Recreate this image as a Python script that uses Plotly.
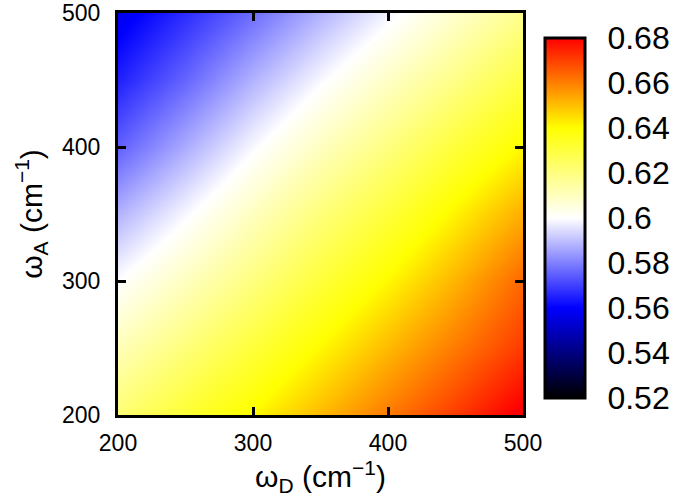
import plotly.graph_objects as go

# grid of the map (cm^-1)
omega_D = [200, 250, 300, 350, 400, 450, 500]
omega_A = [200, 250, 300, 350, 400, 450, 500]

# values, one row per omega_A (bottom to top)
z_vals = [
    [0.622, 0.632, 0.641, 0.651, 0.661, 0.671, 0.682],
    [0.611, 0.621, 0.631, 0.641, 0.651, 0.661, 0.671],
    [0.600, 0.610, 0.620, 0.631, 0.641, 0.652, 0.664],
    [0.588, 0.599, 0.610, 0.621, 0.631, 0.642, 0.653],
    [0.575, 0.587, 0.599, 0.610, 0.620, 0.631, 0.641],
    [0.565, 0.576, 0.588, 0.599, 0.609, 0.619, 0.630],
    [0.557, 0.567, 0.577, 0.588, 0.598, 0.608, 0.618],
]

cbar_ticks = [0.52, 0.54, 0.56, 0.58, 0.60, 0.62, 0.64, 0.66, 0.68]
cbar_labels = ["0.52", "0.54", "0.56", "0.58", "0.6", "0.62", "0.64", "0.66", "0.68"]
axis_ticks = [200, 300, 400, 500]

zmin, zmax = 0.52, 0.68

# black -> blue -> white -> yellow -> red
palette = [
    [0.0, "rgb(0,0,0)"],
    [0.25, "rgb(0,0,255)"],
    [0.5, "rgb(255,255,255)"],
    [0.75, "rgb(255,255,0)"],
    [1.0, "rgb(255,0,0)"],
]

fnt = "Liberation Sans, Arial, sans-serif"

# plot area in px
L, R, T, B = 118, 162, 13, 88
W, H = 685, 503
pw, ph = W - L - R, H - T - B

# colorbar placement (paper units)
cb_x = 1.054
cb_len = 0.8955
cb_y = 0.49
cb_thick = 40

fig = go.Figure(go.Heatmap(
    x=omega_D, y=omega_A, z=z_vals,
    zmin=zmin, zmax=zmax, zsmooth="best",
    colorscale=palette,
    colorbar=dict(
        x=cb_x, xanchor="left", xpad=0,
        y=cb_y, yanchor="middle", ypad=0, len=cb_len, lenmode="fraction",
        thickness=cb_thick, outlinewidth=3, outlinecolor="black",
        tickmode="array", tickvals=cbar_ticks, ticktext=cbar_labels,
        ticks="outside", ticklen=15, tickcolor="rgba(0,0,0,0)",
        tickfont=dict(family=fnt, size=32, color="black"),
    ),
))

# inside tick marks on both edges of the colorbar
cb_bottom = cb_y - cb_len / 2
x_left = cb_x
x_right = cb_x + cb_thick / pw
tl = 8 / pw
for v in cbar_ticks[1:-1]:
    yy = cb_bottom + (v - zmin) / (zmax - zmin) * cb_len
    for x0, x1 in [(x_left, x_left + tl), (x_right - tl, x_right)]:
        fig.add_shape(type="line", xref="paper", yref="paper",
                      x0=x0, x1=x1, y0=yy, y1=yy,
                      line=dict(color="black", width=2.5))

axis_style = dict(
    range=[200, 500], tickmode="array", tickvals=axis_ticks,
    ticks="inside", ticklen=8, tickwidth=2.5, tickcolor="black",
    showline=True, linewidth=3, linecolor="black", mirror="ticks",
    showgrid=False, zeroline=False, automargin=False,
    tickfont=dict(family=fnt, size=23, color="black"),
)

fig.update_xaxes(**axis_style, ticklabelstandoff=5,
                 title=dict(text="ω<sub>D</sub> (cm<sup>−1</sup>)",
                            font=dict(family=fnt, size=30, color="black"), standoff=6))
fig.update_yaxes(**axis_style, ticklabelstandoff=10,
                 title=dict(text="ω<sub>A</sub> (cm<sup>−1</sup>)",
                            font=dict(family=fnt, size=30, color="black"), standoff=11))

fig.update_layout(
    width=W, height=H,
    margin=dict(l=L, r=R, t=T, b=B),
    plot_bgcolor="white", paper_bgcolor="white",
)

# drop the browser's default page margin so the figure sits at the corner
fig.write_html("out.html", config={"displayModeBar": False},
               post_script="document.body.style.margin='0';")
